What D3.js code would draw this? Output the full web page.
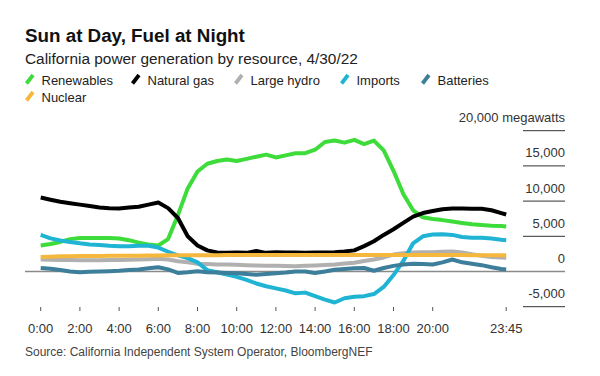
<!DOCTYPE html>
<html>
<head>
<meta charset="utf-8">
<script src="https://cdn.jsdelivr.net/npm/d3@7"></script>
<style>
  html, body { margin: 0; padding: 0; background: #fff; }
  svg { display: block; font-family: "Liberation Sans", Arial, sans-serif; }
</style>
</head>
<body>
<svg id="chart" width="600" height="376"></svg>
<script>
// ---- data (megawatts) ----
const hours = [0,0.5,1,1.5,2,2.5,3,3.5,4,4.5,5,5.5,6,6.5,7,7.5,8,8.5,9,9.5,10,10.5,11,11.5,12,12.5,13,13.5,14,14.5,15,15.5,16,16.5,17,17.5,18,18.5,19,19.5,20,20.5,21,21.5,22,22.5,23,23.5,23.75];

const renewables = [3700,3900,4200,4600,4750,4750,4750,4750,4700,4450,4100,3850,3700,4600,8000,11800,14200,15300,15700,15900,15700,16000,16300,16600,16200,16500,16800,16800,17300,18400,18600,18300,18700,18100,18600,17200,14300,11000,8700,7700,7450,7300,7100,6900,6700,6600,6500,6450,6400];
const naturalGas = [10500,10200,9900,9700,9500,9300,9100,9000,8950,9100,9200,9500,9800,9000,7600,5000,3700,3000,2700,2650,2700,2650,2900,2650,2750,2700,2700,2650,2700,2700,2750,2850,3000,3600,4300,5200,6000,6900,7800,8300,8600,8850,8950,8950,8900,8900,8700,8300,8100];
const largeHydro = [1700,1680,1650,1620,1600,1600,1600,1620,1650,1680,1700,1750,1800,1700,1450,1300,1100,1050,1000,980,950,900,850,830,800,780,750,800,850,920,1000,1120,1250,1500,1700,2000,2400,2600,2700,2720,2750,2800,2850,2700,2450,2250,2050,1980,1950];
const imports = [5200,4700,4400,4200,4000,3850,3750,3650,3600,3600,3650,3650,3400,2800,2300,1900,1300,200,-100,-450,-750,-1200,-1700,-2100,-2400,-2700,-3100,-3000,-3500,-4000,-4400,-3800,-3600,-3500,-3200,-2200,-500,1500,4000,5000,5250,5300,5200,4900,4800,4800,4700,4500,4450];
const batteries = [500,400,200,0,-100,-50,0,50,100,200,300,450,600,300,-200,-100,50,-100,-150,-200,-250,-350,-450,-350,-250,-150,0,0,-200,0,250,350,450,500,100,500,800,1000,1100,1050,1000,1300,1700,1300,1100,900,600,350,300];
const nuclear = [2050,2100,2150,2180,2200,2200,2200,2220,2230,2250,2250,2260,2280,2300,2300,2310,2320,2320,2320,2330,2330,2330,2330,2330,2330,2330,2330,2330,2330,2330,2330,2330,2330,2330,2330,2330,2330,2330,2330,2330,2330,2330,2330,2330,2320,2320,2310,2300,2300];

const seriesNames = ["Renewables","Natural gas","Large hydro","Imports","Batteries","Nuclear"];
const seriesValues = [renewables, naturalGas, largeHydro, imports, batteries, nuclear];
const seriesColors = ["#3ddc3a","#000000","#b0b0b0","#1fb3d4","#3d7e9a","#f5b83c"];

const yTicks = [-5000,0,5000,10000,15000,20000];
const yTickLabels = ["-5,000","0","5,000","10,000","15,000","20,000 megawatts"];
const xTicks = [0,2,4,6,8,10,12,14,16,18,20,23.75];
const xTickLabels = ["0:00","2:00","4:00","6:00","8:00","10:00","12:00","14:00","16:00","18:00","20:00","23:45"];

const title = "Sun at Day, Fuel at Night";
const subtitle = "California power generation by resource, 4/30/22";
const source = "Source: California Independent System Operator, BloombergNEF";

// ---- layout ----
const svg = d3.select("#chart");
const x = d3.scaleLinear().domain([0, 23.75]).range([40.7, 506.2]);
const y = d3.scaleLinear().domain([-5000, 20000]).range([306.7, 130.7]);

// titles
svg.append("text").attr("x", 25).attr("y", 41.5)
  .attr("font-size", 18.8).attr("font-weight", "bold").attr("fill", "#111").text(title);
svg.append("text").attr("x", 25).attr("y", 63.5)
  .attr("font-size", 15.4).attr("fill", "#222").text(subtitle);

// legend
const legendPos = [[25,84.5],[131,84.5],[234,84.5],[340,84.5],[421,84.5],[25,101.5]];
seriesNames.forEach((name, i) => {
  const [lx, ly] = legendPos[i];
  const g = svg.append("g").attr("transform", `translate(${lx},${ly})`);
  g.append("line").attr("x1", 1.5).attr("y1", -1).attr("x2", 8).attr("y2", -9.5)
    .attr("stroke", seriesColors[i]).attr("stroke-width", 3.8).attr("stroke-linecap", "butt");
  g.append("text").attr("x", 16.5).attr("y", 0).attr("font-size", 13).attr("fill", "#222").text(name);
});

// y axis: short rules at right with labels above
const yAxis = svg.append("g");
yTicks.forEach((t, i) => {
  if (t === 0) {
    yAxis.append("line").attr("x1", 25).attr("x2", 565)
      .attr("y1", y(t)).attr("y2", y(t)).attr("stroke", "#8a8a8a").attr("stroke-width", 1.5);
  } else {
    yAxis.append("line").attr("x1", 523).attr("x2", 565)
      .attr("y1", y(t)).attr("y2", y(t)).attr("stroke", "#333").attr("stroke-width", 1);
  }
  yAxis.append("text").attr("x", 565).attr("y", y(t) - 8.5)
    .attr("text-anchor", "end").attr("font-size", 13).attr("fill", "#333").text(yTickLabels[i]);
});

// x axis ticks
const xAxis = svg.append("g");
xTicks.forEach((t, i) => {
  xAxis.append("line").attr("x1", x(t)).attr("x2", x(t)).attr("y1", 307).attr("y2", 311)
    .attr("stroke", "#555").attr("stroke-width", 1);
  xAxis.append("text").attr("x", x(t)).attr("y", 332.5).attr("text-anchor", "middle")
    .attr("font-size", 13).attr("fill", "#333").text(xTickLabels[i]);
});

// lines
const line = d3.line().x((d, i) => x(hours[i])).y(d => y(d)).curve(d3.curveLinear);
seriesValues.forEach((vals, i) => {
  svg.append("path").datum(vals).attr("d", line)
    .attr("fill", "none").attr("stroke", seriesColors[i]).attr("stroke-width", 4)
    .attr("stroke-linejoin", "round").attr("stroke-linecap", "butt");
});

// source
svg.append("text").attr("x", 25).attr("y", 356)
  .attr("font-size", 12).attr("fill", "#444").text(source);
</script>
</body>
</html>
